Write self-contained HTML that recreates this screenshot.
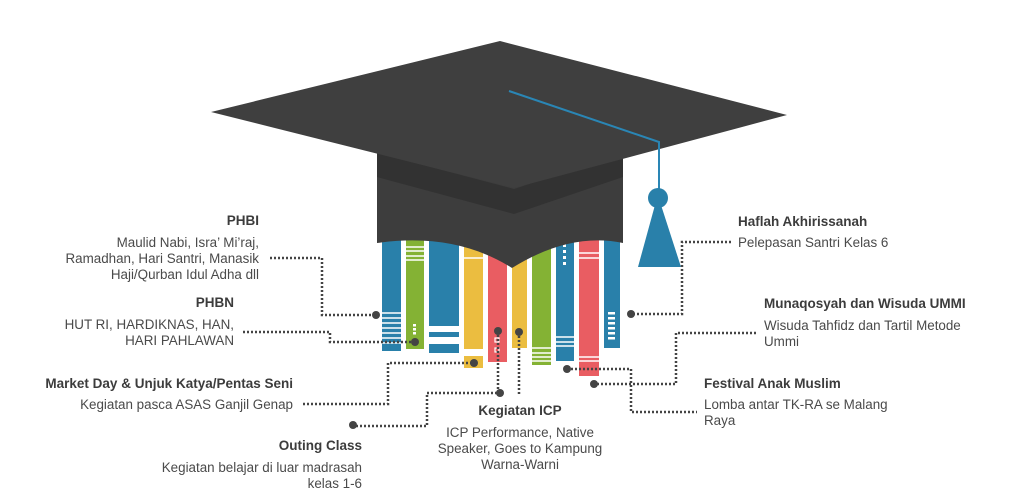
<!DOCTYPE html>
<html><head><meta charset="utf-8"><style>
body{margin:0;background:#fff;}
svg{display:block;}
text{font-family:"Liberation Sans",Arial,sans-serif;font-size:13.4px;fill:#4a4a4a;}
.b{font-weight:bold;fill:#3c3c3c;font-size:13.5px;}
.d{fill:none;stroke:#444;stroke-width:2.5;stroke-dasharray:2 2;}
</style></head><body>
<svg width="1024" height="498" viewBox="0 0 1024 498">
<!-- books -->
<g>
<rect x="382" y="230" width="19" height="121" fill="#2980aa"/>
<g stroke="#fff" stroke-width="1.5"><line x1="382" y1="313" x2="401" y2="313"/><line x1="382" y1="318" x2="401" y2="318"/><line x1="382" y1="323" x2="401" y2="323"/><line x1="382" y1="328" x2="401" y2="328"/><line x1="382" y1="333" x2="401" y2="333"/><line x1="382" y1="338" x2="401" y2="338"/><line x1="382" y1="343" x2="401" y2="343"/></g>
<rect x="406" y="230" width="18" height="119" fill="#84b234"/>
<g stroke="#fff" stroke-width="1.5"><line x1="406" y1="247" x2="424" y2="247"/><line x1="406" y1="251" x2="424" y2="251"/><line x1="406" y1="256" x2="424" y2="256"/><line x1="406" y1="260" x2="424" y2="260"/></g>
<g fill="#fff"><rect x="413" y="324" width="3" height="2.5"/><rect x="413" y="328" width="3" height="2.5"/><rect x="413" y="332" width="3" height="2.5"/></g>
<rect x="429" y="230" width="30" height="96" fill="#2980aa"/>
<rect x="429" y="332" width="30" height="5" fill="#2980aa"/>
<rect x="429" y="344" width="30" height="9" fill="#2980aa"/>
<rect x="464" y="230" width="19" height="119" fill="#ebbd40"/>
<line x1="464" y1="258" x2="483" y2="258" stroke="#fff" stroke-width="1.5"/>
<rect x="464" y="356" width="19" height="12" fill="#ebbd40"/>
<rect x="488" y="230" width="19" height="132" fill="#e95d62"/>
<rect x="495" y="338" width="4" height="4" fill="none" stroke="#fff" stroke-width="1.2"/>
<rect x="495" y="348" width="4" height="4" fill="none" stroke="#fff" stroke-width="1.2"/>
<rect x="512" y="230" width="15" height="118" fill="#ebbd40"/>
<rect x="532" y="230" width="19" height="135" fill="#84b234"/>
<g stroke="#fff" stroke-width="1.5"><line x1="532" y1="348" x2="551" y2="348"/><line x1="532" y1="353" x2="551" y2="353"/><line x1="532" y1="357" x2="551" y2="357"/><line x1="532" y1="361" x2="551" y2="361"/></g>
<rect x="556" y="230" width="18" height="131" fill="#2980aa"/>
<g stroke="#fff" stroke-width="1.5"><line x1="556" y1="337" x2="574" y2="337"/><line x1="556" y1="342" x2="574" y2="342"/><line x1="556" y1="346" x2="574" y2="346"/></g>
<g fill="#fff"><rect x="563" y="244" width="3" height="3"/><rect x="563" y="250" width="3" height="3"/><rect x="563" y="256" width="3" height="3"/><rect x="563" y="262" width="3" height="3"/></g>
<rect x="579" y="230" width="20" height="146" fill="#e95d62"/>
<g stroke="#fff" stroke-width="1.5"><line x1="579" y1="253" x2="599" y2="253"/><line x1="579" y1="258" x2="599" y2="258"/><line x1="579" y1="357" x2="599" y2="357"/><line x1="579" y1="361" x2="599" y2="361"/></g>
<rect x="604" y="230" width="16" height="118" fill="#2980aa"/>
<g fill="#fff"><rect x="608" y="312" width="7" height="2.5"/><rect x="608" y="317" width="7" height="2.5"/><rect x="608" y="322" width="7" height="2.5"/><rect x="608" y="327" width="7" height="2.5"/><rect x="608" y="332" width="7" height="2.5"/><rect x="608" y="337" width="7" height="2.5"/></g>
</g>
<!-- cap -->
<path d="M377 150 L623 150 L623 243 Q570 232 512 268 Q455 232 377 243 Z" fill="#3d3d3d"/>
<path d="M377 153 L514 189 L623 153 L623 177 L514 214 L377 177 Z" fill="#323232"/>
<path d="M211 112 L500 41 L787 115 L514 188 Z" fill="#3f3f3f"/>
<polyline points="509,91 659,142 659,192" fill="none" stroke="#2a86b5" stroke-width="2"/>
<ellipse cx="658" cy="198" rx="10" ry="10" fill="#2980aa"/>
<path d="M655 205 L661 205 L681 267 L638 267 Z" fill="#2980aa"/>
<!-- connectors -->
<polyline class="d" points="270,258 322,258 322,315 376,315"/>
<circle cx="376" cy="315" r="4" fill="#444"/>
<polyline class="d" points="243,332 330,332 330,342 415,342"/>
<circle cx="415" cy="342" r="4" fill="#444"/>
<polyline class="d" points="303,404 388,404 388,363 474,363"/>
<circle cx="474" cy="363" r="4" fill="#444"/>
<polyline class="d" points="353,425 353,426 427,426 427,393 500,393"/>
<circle cx="353" cy="425" r="4" fill="#444"/>
<circle cx="500" cy="393" r="4" fill="#444"/>
<polyline class="d" points="498,331 498,392"/>
<circle cx="498" cy="331" r="4" fill="#444"/>
<polyline class="d" points="519,332 519,394"/>
<circle cx="519" cy="332" r="4" fill="#444"/>
<polyline class="d" points="731,242 682,242 682,314 631,314"/>
<circle cx="631" cy="314" r="4" fill="#444"/>
<polyline class="d" points="756,333 676,333 676,384 594,384"/>
<circle cx="594" cy="384" r="4" fill="#444"/>
<polyline class="d" points="567,369 631,369 631,412 697,412"/>
<circle cx="567" cy="369" r="4" fill="#444"/>
<!-- labels -->
<g text-anchor="end">
<text class="b" x="259" y="225">PHBI</text>
<text x="259" y="247">Maulid Nabi, Isra’ Mi’raj,</text>
<text x="259" y="263">Ramadhan, Hari Santri, Manasik</text>
<text x="259" y="279">Haji/Qurban Idul Adha dll</text>
<text class="b" x="234" y="307">PHBN</text>
<text x="234" y="329">HUT RI, HARDIKNAS, HAN,</text>
<text x="234" y="345">HARI PAHLAWAN</text>
<text class="b" x="293" y="388">Market Day &amp; Unjuk Katya/Pentas Seni</text>
<text x="293" y="409">Kegiatan pasca ASAS Ganjil Genap</text>
<text class="b" x="362" y="450">Outing Class</text>
<text x="362" y="472">Kegiatan belajar di luar madrasah</text>
<text x="362" y="488">kelas 1-6</text>
</g>
<g text-anchor="middle">
<text class="b" x="520" y="415">Kegiatan ICP</text>
<text x="520" y="437">ICP Performance, Native</text>
<text x="520" y="453">Speaker, Goes to Kampung</text>
<text x="520" y="469">Warna-Warni</text>
</g>
<text class="b" x="738" y="226">Haflah Akhirissanah</text>
<text x="738" y="247">Pelepasan Santri Kelas 6</text>
<text class="b" x="764" y="308">Munaqosyah dan Wisuda UMMI</text>
<text x="764" y="330">Wisuda Tahfidz dan Tartil Metode</text>
<text x="764" y="346">Ummi</text>
<text class="b" x="704" y="388">Festival Anak Muslim</text>
<text x="704" y="409">Lomba antar TK-RA se Malang</text>
<text x="704" y="425">Raya</text>
</svg>
</body></html>
